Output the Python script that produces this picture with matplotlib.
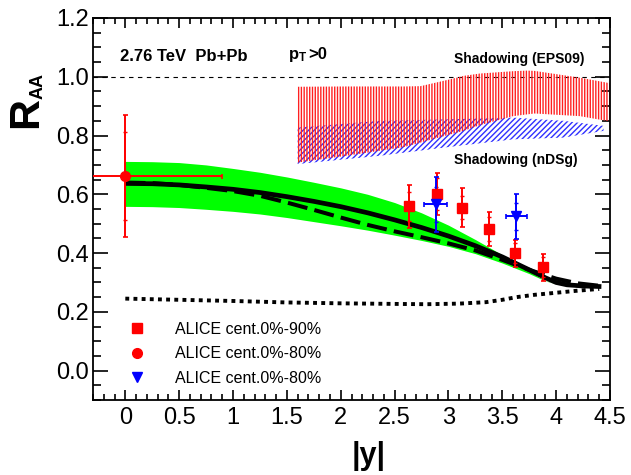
import matplotlib
matplotlib.use("Agg")
import matplotlib.pyplot as plt
from matplotlib.lines import Line2D
from matplotlib.ticker import MultipleLocator

plt.rcParams['font.family'] = ['Liberation Sans', 'DejaVu Sans']
plt.rcParams['mathtext.fontset'] = 'custom'
plt.rcParams['mathtext.rm'] = 'Liberation Sans'
plt.rcParams['mathtext.bf'] = 'Liberation Sans:bold'
plt.rcParams['hatch.linewidth'] = 1.0

# model band (green) and curves
band_x = [0, 0.25, 0.5, 0.75, 1.0, 1.25, 1.5, 1.75, 2.0, 2.25, 2.5, 2.75, 3.0, 3.25,
          3.5, 3.75, 3.9, 4.0, 4.1]
band_hi = [0.712, 0.711, 0.708, 0.700, 0.688, 0.675, 0.659, 0.641, 0.622, 0.600, 0.572,
           0.537, 0.495, 0.446, 0.394, 0.338, 0.306, 0.297, 0.290]
band_lo = [0.559, 0.558, 0.555, 0.549, 0.542, 0.533, 0.521, 0.507, 0.493, 0.478, 0.461,
           0.443, 0.423, 0.398, 0.366, 0.330, 0.305, 0.296, 0.290]

solid_x = [0, 0.25, 0.5, 0.75, 1.0, 1.25, 1.5, 1.75, 2.0, 2.25, 2.5, 2.75, 3.0, 3.25,
           3.5, 3.75, 3.9, 4.0, 4.1, 4.25, 4.42]
solid_y = [0.637, 0.636, 0.632, 0.625, 0.617, 0.606, 0.592, 0.576, 0.558, 0.537, 0.513,
           0.487, 0.458, 0.425, 0.387, 0.343, 0.316, 0.300, 0.292, 0.288, 0.286]

dash_x = [0, 0.25, 0.5, 0.75, 1.0, 1.25, 1.5, 1.75, 2.0, 2.25, 2.5, 2.75, 3.0, 3.25,
          3.5, 3.75, 4.0, 4.2, 4.42]
dash_y = [0.640, 0.638, 0.632, 0.622, 0.611, 0.595, 0.572, 0.547, 0.521, 0.496, 0.474,
          0.454, 0.433, 0.409, 0.377, 0.343, 0.313, 0.297, 0.288]

dot_x = [0, 0.5, 1.0, 1.5, 2.0, 2.5, 2.8, 3.1, 3.35, 3.5, 3.63, 3.8, 4.0, 4.2, 4.4]
dot_y = [0.245, 0.241, 0.237, 0.232, 0.229, 0.227, 0.226, 0.228, 0.233, 0.241, 0.250,
         0.258, 0.265, 0.272, 0.278]

# shadowing bands
eps_x = [1.6, 2.05, 2.58, 2.74, 3.0, 3.14, 3.29, 3.6, 3.73, 3.8, 4.22, 4.5]
eps_hi = [0.966, 0.967, 0.967, 0.968, 0.990, 1.003, 1.011, 1.019, 1.021, 1.020, 0.997, 0.978]
eps_lo = [0.708, 0.731, 0.760, 0.776, 0.802, 0.816, 0.835, 0.866, 0.872, 0.875, 0.866, 0.848]

nds_x = [1.6, 2.36, 2.98, 3.6, 4.07, 4.44]
nds_hi = [0.827, 0.850, 0.855, 0.861, 0.850, 0.833]
nds_lo = [0.703, 0.731, 0.760, 0.787, 0.793, 0.816]

# ALICE data
sq_x = [2.63, 2.89, 3.13, 3.38, 3.62, 3.88]
sq_y = [0.559, 0.601, 0.555, 0.482, 0.400, 0.352]
sq_stat = [0.072, 0.072, 0.065, 0.058, 0.046, 0.046]
sq_sys = [0.050, 0.055, 0.038, 0.040, 0.035, 0.034]

ci_x = [0.0]
ci_y = [0.663]
ci_xerr = [0.9]
ci_stat = [0.207]
ci_sys = [0.150]

tri_x = [2.88, 3.63]
tri_y = [0.566, 0.525]
tri_xerr = [0.104, 0.100]
tri_stat = [0.093, 0.077]
tri_sys = [0.060, 0.045]

labels = ["ALICE cent.0%-90%", "ALICE cent.0%-80%", "ALICE cent.0%-80%"]

fig = plt.figure(figsize=(6.31, 4.75), dpi=100)
ax = fig.add_axes([93 / 631, 75 / 475, 517 / 631, 382 / 475])

ax.fill_between(band_x, band_lo, band_hi, color="#00ff00", lw=0, zorder=1)
ax.plot(solid_x, solid_y, color="k", lw=3.4, zorder=3, solid_capstyle="butt")
ax.plot(dash_x, dash_y, color="k", lw=2.9, ls=(0, (5, 1.8)), zorder=3)
ax.plot(dot_x, dot_y, color="k", lw=2.8, ls=(0, (1, 1.1)), zorder=3)
ax.axhline(1.0, color="k", lw=0.8, ls=(0, (4, 4)), zorder=2)

ax.fill_between(nds_x, nds_lo, nds_hi, facecolor="none", edgecolor="#3030ff",
                hatch="//////", lw=0, zorder=2)
ax.fill_between(eps_x, eps_lo, eps_hi, facecolor="none", edgecolor="#ff2020",
                hatch="||||||", lw=0, zorder=2)

# data: sys (inner ticks) then stat
ax.errorbar(sq_x, sq_y, yerr=sq_sys, fmt="none", ecolor="red", elinewidth=1.2,
            capsize=1.2, capthick=1.0, zorder=4)
ax.errorbar(sq_x, sq_y, yerr=sq_stat, fmt="s", color="red", ms=6.5, mec="red",
            elinewidth=1.4, capsize=1.8, capthick=1.2, zorder=5)
ax.errorbar(ci_x, ci_y, yerr=ci_sys, fmt="none", ecolor="red", elinewidth=1.2,
            capsize=1.2, capthick=1.0, zorder=4)
ax.errorbar(ci_x, ci_y, xerr=ci_xerr, yerr=ci_stat, fmt="o", color="red", ms=7,
            elinewidth=1.4, capsize=1.8, capthick=1.2, zorder=5)
ax.errorbar(tri_x, tri_y, yerr=tri_sys, fmt="none", ecolor="blue", elinewidth=1.2,
            capsize=1.2, capthick=1.0, zorder=4)
ax.errorbar(tri_x, tri_y, xerr=tri_xerr, yerr=tri_stat, fmt="v", color="blue", ms=7.5,
            elinewidth=1.4, capsize=1.8, capthick=1.2, zorder=5)

ax.set_xlim(-0.3, 4.5)
ax.set_ylim(-0.1, 1.2)
ax.xaxis.set_minor_locator(MultipleLocator(0.1))
ax.yaxis.set_minor_locator(MultipleLocator(0.05))
ax.set_xticks([0, 0.5, 1, 1.5, 2, 2.5, 3, 3.5, 4, 4.5])
ax.set_xticklabels(["0", "0.5", "1", "1.5", "2", "2.5", "3", "3.5", "4", "4.5"])
ax.set_yticks([0.0, 0.2, 0.4, 0.6, 0.8, 1.0, 1.2])
ax.set_yticklabels(["0.0", "0.2", "0.4", "0.6", "0.8", "1.0", "1.2"])
ax.tick_params(axis="both", which="both", direction="in", top=True, right=True,
               width=1.2, labelsize=17)
ax.tick_params(axis="x", which="major", length=7.5, pad=5)
ax.tick_params(axis="x", which="minor", length=4.2)
ax.tick_params(axis="y", which="major", length=11, pad=3)
ax.tick_params(axis="y", which="minor", length=5.5)
for s in ax.spines.values():
    s.set_linewidth(1.3)

ax.text(-0.05, 1.052, "2.76 TeV  Pb+Pb", fontsize=12, fontweight="bold")
ax.text(1.51, 1.062, r"$\mathbf{p_T}$", fontsize=12)
ax.text(1.70, 1.062, ">0", fontsize=12, fontweight="bold")
ax.text(3.05, 1.048, "Shadowing (EPS09)", fontsize=10, fontweight="bold")
ax.text(3.05, 0.703, "Shadowing (nDSg)", fontsize=10, fontweight="bold")

fig.text(26 / 631, 1 - 112 / 475, "R", fontsize=31, fontweight="bold", rotation=90,
         ha="center", va="center")
fig.text(38 / 631, 1 - 86 / 475, "AA", fontsize=13, fontweight="bold", rotation=90,
         ha="center", va="center")
fig.text(369 / 631, 1 - 456 / 475, "|y|", fontsize=22, fontweight="bold",
         ha="center", va="center")

handles = [Line2D([], [], ls="none", marker="s", color="red", ms=6.5),
           Line2D([], [], ls="none", marker="o", color="red", ms=7),
           Line2D([], [], ls="none", marker="v", color="blue", ms=7.5)]
ax.legend(handles, labels, loc="upper left", bbox_to_anchor=(0.054, 0.205),
          frameon=False, fontsize=11.5, handlelength=2.0, handletextpad=1.4,
          labelspacing=0.6, borderpad=0, borderaxespad=0)

fig.savefig("out.png", dpi=100)
